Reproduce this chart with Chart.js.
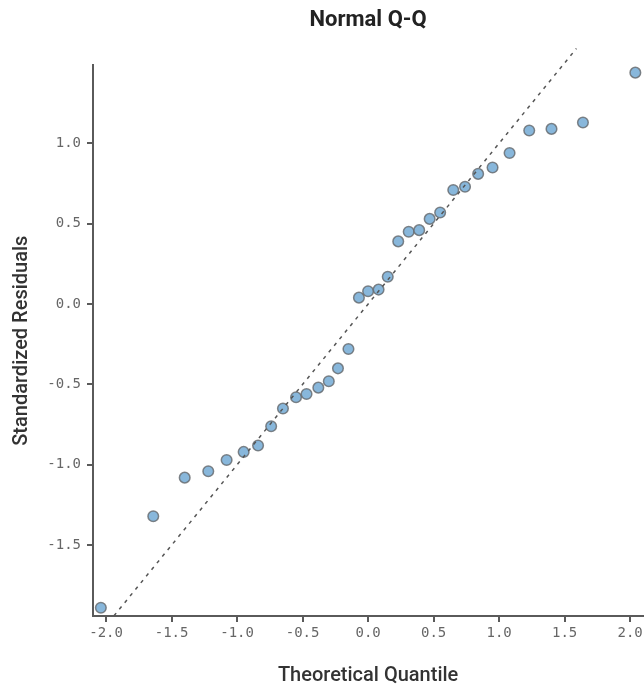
<!DOCTYPE html>
<html>
<head>
<meta charset="utf-8">
<script src="https://cdn.jsdelivr.net/npm/chart.js@4/dist/chart.umd.min.js"></script>
<style>
  html, body { margin: 0; padding: 0; background: #fff; overflow: hidden; }
  canvas { display: block; }
</style>
</head>
<body>
<canvas id="qqCanvas" width="650" height="686"></canvas>
<script>
// Theoretical quantiles (x) and standardized residuals (y)
const theoreticalQuantiles = [
  -2.04, -1.64, -1.40, -1.22, -1.08, -0.95, -0.84, -0.74, -0.65, -0.55, -0.47,
  -0.38, -0.30, -0.23, -0.15, -0.07, 0.00, 0.08, 0.15, 0.23, 0.31, 0.39,
  0.47, 0.55, 0.65, 0.74, 0.84, 0.95, 1.08, 1.23, 1.40, 1.64, 2.04
];
const standardizedResiduals = [
  -1.89, -1.32, -1.08, -1.04, -0.97, -0.92, -0.88, -0.76, -0.65, -0.58, -0.56,
  -0.52, -0.48, -0.40, -0.28, 0.04, 0.08, 0.09, 0.17, 0.39, 0.45, 0.46,
  0.53, 0.57, 0.71, 0.73, 0.81, 0.85, 0.94, 1.08, 1.09, 1.13, 1.44
];

// Reference line y = x
const refLineX = [-1.94, 1.59];
const refLineY = [-1.94, 1.59];

// Axis ticks and ranges
const xTicks = [-2.0, -1.5, -1.0, -0.5, 0.0, 0.5, 1.0, 1.5, 2.0];
const yTicks = [-1.5, -1.0, -0.5, 0.0, 0.5, 1.0];
const xRange = [-2.1, 2.1];
const yRange = [-1.941, 1.485];

const axisColor = "#5a5a5a";
const tickFont = { family: "'DejaVu Sans Mono', monospace", size: 14 };
const labelFont = { family: "Roboto, sans-serif", size: 20, weight: "500", lineHeight: 1 };

const ctx = document.getElementById("qqCanvas").getContext("2d");
const qqChart = new Chart(ctx, {
  type: "scatter",
  data: {
    datasets: [
      {
        type: "line",
        data: refLineX.map((x, i) => ({ x: x, y: refLineY[i] })),
        borderColor: "#555",
        borderWidth: 1.5,
        borderDash: [3.5, 5],
        pointRadius: 0,
        fill: false,
        clip: false,
        order: 0,
      },
      {
        data: theoreticalQuantiles.map((x, i) => ({ x: x, y: standardizedResiduals[i] })),
        backgroundColor: "#88b7db",
        borderColor: "rgba(100, 104, 108, 0.8)",
        borderWidth: 1.5,
        pointRadius: 5.3,
        order: 1,
      },
    ],
  },
  options: {
    responsive: false,
    animation: false,
    events: [],
    layout: { padding: 0 },
    plugins: {
      legend: { display: false },
      tooltip: { enabled: false },
      title: {
        display: true,
        text: "Normal Q-Q",
        fullSize: false,
        color: "#222",
        font: { family: "Roboto, sans-serif", size: 22, weight: "bold" },
        padding: { top: 7, bottom: 32 },
      },
    },
    scales: {
      x: {
        type: "linear",
        min: xRange[0],
        max: xRange[1],
        border: { display: true, color: axisColor, width: 2 },
        grid: { drawOnChartArea: false, drawTicks: true, tickLength: 6, color: axisColor, lineWidth: 2 },
        ticks: {
          color: "#666",
          font: tickFont,
          padding: 3,
          maxRotation: 0,
          callback: (v) => Number(v).toFixed(1),
        },
        afterBuildTicks: (scale) => {
          scale.ticks = xTicks.map((v) => ({ value: v }));
        },
        afterFit: (scale) => {
          scale.height = 70;
          scale.paddingLeft = 0;
          scale.paddingRight = 0;
        },
        title: {
          display: true,
          text: "Theoretical Quantile",
          color: "#333",
          font: labelFont,
          padding: { top: 0, bottom: 0 },
        },
      },
      y: {
        type: "linear",
        min: yRange[0],
        max: yRange[1],
        border: { display: true, color: axisColor, width: 2 },
        grid: { drawOnChartArea: false, drawTicks: true, tickLength: 6, color: axisColor, lineWidth: 2 },
        ticks: {
          color: "#666",
          font: tickFont,
          padding: 6,
          callback: (v) => Number(v).toFixed(1),
        },
        afterBuildTicks: (scale) => {
          scale.ticks = yTicks.map((v) => ({ value: v }));
        },
        afterFit: (scale) => {
          scale.width = 93;
          scale.paddingTop = 0;
          scale.paddingBottom = 0;
        },
        title: {
          display: true,
          text: "Standardized Residuals",
          color: "#333",
          font: labelFont,
          padding: { top: 12, bottom: 0 },
        },
      },
    },
  },
});
</script>
</body>
</html>
